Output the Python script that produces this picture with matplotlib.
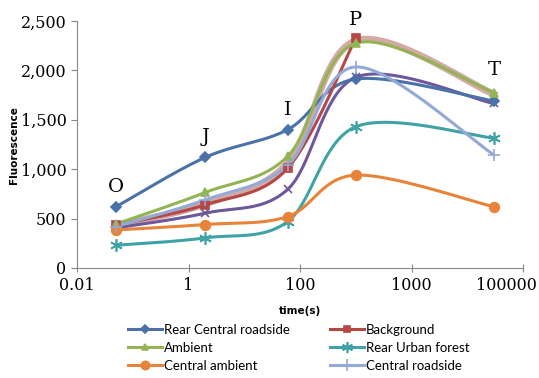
import numpy as np
import matplotlib
matplotlib.use("Agg")
from matplotlib import pyplot as plt
from matplotlib import transforms
from matplotlib.ticker import FixedLocator, FixedFormatter
from matplotlib.lines import Line2D

# time points (O, J, I, P, T)
times = [0.05, 2, 60, 1000, 300000]
phase_labels = ["O", "J", "I", "P", "T"]
phase_label_y = [820, 1325, 1600, 2510, 2005]

rear_central_roadside = [620, 1120, 1400, 1913, 1690]
background = [435, 640, 1010, 2325, None]
ambient = [445, 765, 1130, 2275, 1775]
rear_urban_forest = [230, 305, 470, 1430, 1315]
central_ambient = [385, 440, 520, 940, 620]
central_roadside = [420, 690, 1040, 2035, 1145]
# two extra series drawn without legend entries
extra_purple = [405, 555, 795, 1930, 1665]
extra_tan = [430, 650, 1060, 2300, 1760]

x_ticks = [0.01, 1, 100, 1e4, 1e6]
x_tick_labels = ["0.01", "1", "100", "1000", "100000"]
y_ticks = [0, 500, 1000, 1500, 2000, 2500]
y_tick_labels = ["0", "500", "1,000", "1,500", "2,000", "2,500"]

W, H = 446.0, 247.0  # plot area size in px, used for excel-like smoothing


def smooth(xs, ys, n=40):
    pts = [(x, y) for x, y in zip(xs, ys) if y is not None]
    u = (np.log10([q[0] for q in pts]) + 2) / 8 * W
    v = np.array([q[1] for q in pts], float) / 2500 * H
    p = np.column_stack([u, v])
    p_ext = np.vstack([p[0], p, p[-1]])
    out = []
    for i in range(len(p) - 1):
        p0, p1, p2, p3 = p_ext[i], p_ext[i + 1], p_ext[i + 2], p_ext[i + 3]
        c1 = p1 + (p2 - p0) / 6
        c2 = p2 - (p3 - p1) / 6
        t = np.linspace(0, 1, n)[:, None]
        seg = ((1 - t) ** 3) * p1 + 3 * ((1 - t) ** 2) * t * c1 + 3 * (1 - t) * t ** 2 * c2 + t ** 3 * p2
        out.append(seg)
    out = np.vstack(out)
    return 10 ** (out[:, 0] / W * 8 - 2), out[:, 1] / H * 2500


fig = plt.figure(figsize=(5.39, 3.78), dpi=100)
ax = fig.add_axes([77 / 539, 1 - 268 / 378, 446 / 539, 247 / 378])
ax.set_xscale("log")
ax.set_xlim(0.01, 1e6)
ax.set_ylim(0, 2500)

series = [
    ("Rear Central roadside", rear_central_roadside, "#4A72A8", "D", 5),
    ("Background", background, "#B54744", "s", 6),
    ("Ambient", ambient, "#93B452", "^", 6),
    ("Rear Urban forest", rear_urban_forest, "#3FA3A6", (6, 2, 0), 9),
    ("Central ambient", central_ambient, "#E8843A", "o", 7),
    ("Central roadside", central_roadside, "#93AAD6", "+", 9),
]

# unlabeled series first (drawn beneath)
sx, sy = smooth(times, extra_tan)
ax.plot(sx, sy, color="#C99590", lw=5, alpha=0.8, zorder=2)
sx, sy = smooth(times, extra_purple)
ax.plot(sx, sy, color="#6E579A", lw=2.2, zorder=3)
ax.plot(times, extra_purple, ls="none", marker="x", color="#6E579A", ms=6, mew=1.2, zorder=4)

handles = []
for name, vals, col, mk, ms in series:
    sx, sy = smooth(times, vals)
    ax.plot(sx, sy, color=col, lw=2.2, zorder=3)
    px = [t for t, v in zip(times, vals) if v is not None]
    py = [v for v in vals if v is not None]
    ax.plot(px, py, ls="none", marker=mk, color=col, ms=ms, mew=1.2, zorder=4)
    handles.append(Line2D([], [], color=col, lw=2.2, marker=mk, ms=ms - 1, mew=1.2, label=name))

for t, lab, ly in zip(times, phase_labels, phase_label_y):
    ax.text(t, ly, lab, ha="center", va="center", fontsize=14, family="DejaVu Serif", clip_on=False)

for s in ["top", "right"]:
    ax.spines[s].set_visible(False)
for s in ["left", "bottom"]:
    ax.spines[s].set_color("#888888")
ax.xaxis.set_major_locator(FixedLocator(x_ticks))
ax.xaxis.set_major_formatter(FixedFormatter(x_tick_labels))
ax.xaxis.set_minor_locator(FixedLocator([]))
ax.yaxis.set_major_locator(FixedLocator(y_ticks))
ax.yaxis.set_major_formatter(FixedFormatter(y_tick_labels))
ax.tick_params(axis="both", colors="#888888", labelcolor="black", labelsize=11.5, length=4)
ax.tick_params(axis="x", direction="inout", length=6)
for lab in ax.get_xticklabels() + ax.get_yticklabels():
    lab.set_family("DejaVu Serif")
# last x label sits inside the figure, as in the original
last = ax.get_xticklabels()[-1]
last.set_horizontalalignment("right")
last.set_transform(last.get_transform() + transforms.ScaledTranslation(14 / 100, 0, fig.dpi_scale_trans))

fig.text(14 / 539, 1 - 145 / 378, "Fluorescence", rotation=90, ha="center", va="center",
         fontsize=7.5, fontweight="bold", family="DejaVu Sans")
fig.text(300 / 539, 1 - 311 / 378, "time(s)", ha="center", va="center",
         fontsize=7.5, fontweight="bold", family="DejaVu Sans")

order = [0, 2, 4, 1, 3, 5]
fig.legend([handles[i] for i in order], [handles[i].get_label() for i in order],
           ncol=2, frameon=False, loc="upper left", bbox_to_anchor=(128 / 539, 1 - 324 / 378),
           handlelength=2.6, handletextpad=0.15, columnspacing=3.0,
           labelspacing=0.45, borderaxespad=0, borderpad=0, prop={"family": "Lato", "size": 9.5})

fig.savefig("out.png", dpi=100)
